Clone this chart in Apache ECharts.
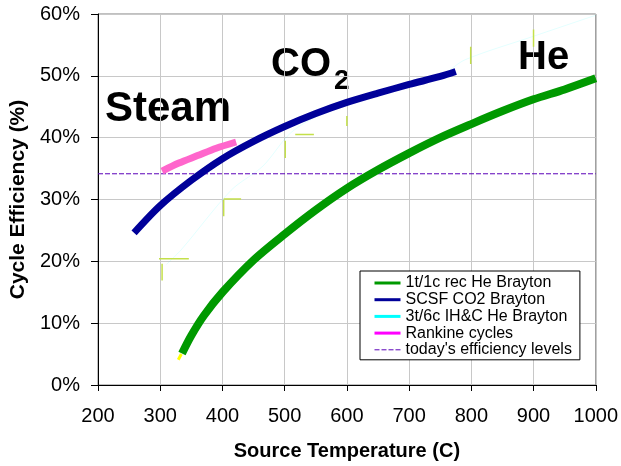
<!DOCTYPE html>
<html>
<head>
<meta charset="utf-8">
<script src="https://cdn.jsdelivr.net/npm/echarts@6/dist/echarts.min.js"></script>
<style>html,body{margin:0;padding:0;background:#fff;}#c{width:621px;height:466px;}</style>
</head>
<body>
<div id="c"></div>
<script>
// Source temperature (C) ticks / range
const xTicks = [200, 300, 400, 500, 600, 700, 800, 900, 1000];
const yTicks = [0, 10, 20, 30, 40, 50, 60];

// 1t/1c rec He Brayton  [temperature, efficiency %]
const heBrayton = [[335,5.1],[350,8],[370,11.2],[400,15],[450,20.2],[500,24.4],[550,28.3],[600,31.8],[650,34.8],[700,37.5],[750,40],[800,42.2],[850,44.3],[900,46.2],[950,47.8],[1000,49.6]];
// SCSF CO2 Brayton
const co2Brayton = [[258,24.6],[300,29],[350,33.1],[400,36.6],[450,39.4],[500,41.8],[550,43.9],[600,45.7],[650,47.2],[700,48.6],[750,49.9],[775,50.7]];
// 3t/6c IH&C He Brayton (faint)
const he3t6c = [[310,19.5],[334,21.9],[414,31.5],[465,35.4],[510,40.8],[560,43.8],[650,46.9],[750,50],[790,52.6],[900,56.4],[1000,59.8]];
// Rankine cycles
const rankine = [[303,34.6],[330,35.9],[360,37.1],[390,38.3],[422,39.3]];
// today's efficiency levels
const todayLevel = [[200,34.16],[1000,34.16]];
// small stray marks in the original
const strayMarks = [[298,20.4],[346,20.4],null,[303,19.6],[303,16.9],null,[402,30.1],[430,30.1],null,[402,29.9],[402,27.3],null,[517,40.5],[547,40.5],null,[501,39.5],[501,36.7],null,[600,43.5],[600,41.9],null,[799,54.7],[799,51.9],null,[900,57.5],[900,54.7]];
const yellowTip = [[329,4.1],[334,5]];

const chart = echarts.init(document.getElementById('c'), null, {renderer:'canvas'});
const FONT = 'Liberation Sans, Arial, sans-serif';
chart.setOption({
  animation: false,
  backgroundColor: '#ffffff',
  grid: {left: 98, right: 24, top: 14, bottom: 77, show: true, borderColor: '#808080', borderWidth: 1},
  xAxis: {
    type: 'value', min: xTicks[0], max: xTicks[xTicks.length-1], interval: 100,
    name: 'Source Temperature (C)', nameLocation: 'middle', nameGap: 56,
    nameTextStyle: {fontFamily: FONT, fontSize: 20, fontWeight: 'bold', color: '#000'},
    axisLine: {lineStyle: {color: '#000', width: 1}},
    axisTick: {length: 6, lineStyle: {color: '#000'}},
    axisLabel: {fontFamily: FONT, fontSize: 20, color: '#000', margin: 21, formatter: v => String(v)},
    splitLine: {show: true, lineStyle: {color: '#c8c8c8', width: 1}}
  },
  yAxis: {
    type: 'value', min: yTicks[0], max: yTicks[yTicks.length-1], interval: 10,
    name: 'Cycle Efficiency (%)', nameLocation: 'middle', nameGap: 68,
    nameTextStyle: {fontFamily: FONT, fontSize: 21, fontWeight: 'bold', color: '#000'},
    axisLine: {show: true, lineStyle: {color: '#000', width: 1}},
    axisTick: {show: true, length: 7, lineStyle: {color: '#000'}},
    axisLabel: {fontFamily: FONT, fontSize: 20, color: '#000', margin: 18, formatter: '{value}%'},
    splitLine: {show: true, lineStyle: {color: '#c8c8c8', width: 1}}
  },
  legend: {
    left: 360, top: 271, orient: 'vertical',
    padding: [4, 8, 2, 13], itemGap: 0.7, itemWidth: 26, itemHeight: 14,
    borderColor: '#000', borderWidth: 1, backgroundColor: '#fff',
    itemStyle: {color: 'rgba(0,0,0,0)', borderWidth: 0},
    textStyle: {fontFamily: FONT, fontSize: 16, lineHeight: 16, color: '#000'},
    data: [
      {name: '1t/1c rec He Brayton', lineStyle: {width: 3}},
      {name: 'SCSF CO2 Brayton', lineStyle: {width: 3}},
      {name: '3t/6c IH&C He Brayton', lineStyle: {width: 3, color: '#00ffff', opacity: 1}},
      {name: 'Rankine cycles', lineStyle: {width: 3, color: '#ff00ff'}},
      {name: "today's efficiency levels", lineStyle: {width: 1}}
    ]
  },
  graphic: [
    {type: 'text', left: 105, top: 88, style: {text: 'Steam', font: 'bold 42px ' + FONT, fill: '#000'}},
    {type: 'text', left: 271, top: 45, style: {text: 'CO', font: 'bold 40px ' + FONT, fill: '#000'}},
    {type: 'text', left: 334, top: 67, style: {text: '2', font: 'bold 28px ' + FONT, fill: '#000'}},
    {type: 'text', left: 518, top: 38, style: {text: 'He', font: 'bold 40px ' + FONT, fill: '#000'}}
  ],
  series: [
    {name: "today's efficiency levels", type: 'line', data: todayLevel, showSymbol: false, symbol: 'none', silent: true,
     lineStyle: {color: '#5a00b8', width: 1, type: [5, 2]}, itemStyle: {color: '#5a00b8'}, z: 2},
    {name: '3t/6c IH&C He Brayton', type: 'line', data: he3t6c, symbol: 'none', smooth: 0.3, silent: true,
     lineStyle: {color: '#00ffff', width: 0.5, opacity: 0.22}, itemStyle: {color: '#00ffff'}, z: 3},
    {name: 'tip', type: 'line', data: yellowTip, symbol: 'none', silent: true,
     lineStyle: {color: '#ffff00', width: 3}, z: 3},
    {name: 'Rankine cycles', type: 'line', data: rankine, symbol: 'none', smooth: 0.3,
     lineStyle: {color: '#ff66cc', width: 7}, itemStyle: {color: '#ff66cc'}, z: 4},
    {name: 'SCSF CO2 Brayton', type: 'line', data: co2Brayton, symbol: 'none', smooth: 0.3,
     lineStyle: {color: '#000099', width: 7}, itemStyle: {color: '#000099'}, z: 5},
    {name: '1t/1c rec He Brayton', type: 'line', data: heBrayton, symbol: 'none', smooth: 0.3,
     lineStyle: {color: '#009900', width: 8}, itemStyle: {color: '#009900'}, z: 6},
    {name: 'marks', type: 'line', data: strayMarks, symbol: 'none', connectNulls: false, silent: true,
     lineStyle: {color: '#c4e04a', width: 1.5}, z: 7}
  ]
});
</script>
</body>
</html>
